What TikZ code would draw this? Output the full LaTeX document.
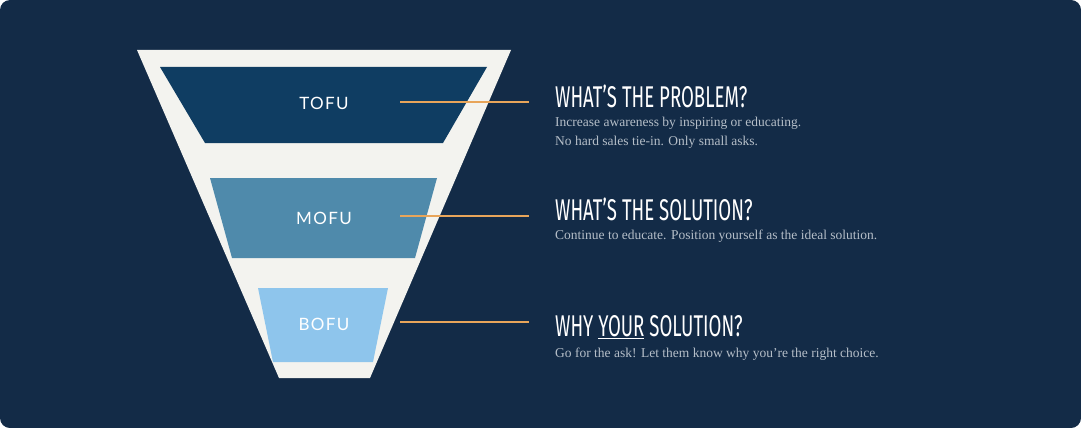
\documentclass[tikz,border=0pt]{standalone}
\usepackage{fontspec}
\setmainfont{Liberation Serif}
\newfontfamily\headf{Fira Sans}
\newfontfamily\labf[LetterSpace=8]{Lato}
\definecolor{bg}{HTML}{132B47}
\definecolor{funnel}{HTML}{F3F3EF}
\definecolor{tofu}{HTML}{0F3D62}
\definecolor{mofu}{HTML}{4F8AAB}
\definecolor{bofu}{HTML}{8EC5EC}
\definecolor{orng}{HTML}{E8A55A}
\definecolor{body}{HTML}{B5BEC8}
\tikzset{
 lab/.style={text=white,font=\labf\fontsize{17}{20}\selectfont},
 head/.style={anchor=west,text=white,inner sep=0,font=\headf\fontsize{30}{32}\selectfont},
 desc/.style={anchor=north west,text=body,inner sep=0,align=left,font=\fontsize{13.5}{18.5}\selectfont},
 conn/.style={orng,line width=1.2pt}
}
\begin{document}
\begin{tikzpicture}[x=1pt,y=-1pt]
\useasboundingbox (0,0) rectangle (1081,428);
\fill[white] (0,0) rectangle (1081,428);
\fill[bg,rounded corners=10pt] (0,0) rectangle (1081,428);
\fill[funnel] (137,50) -- (511,50) -- (370,378) -- (279,378) -- cycle;
\fill[tofu] (160,67) -- (487,67) -- (443,143) -- (205,143) -- cycle;
\fill[mofu] (210,178) -- (437,178) -- (415,258) -- (232,258) -- cycle;
\fill[bofu] (258,288) -- (388,288) -- (373,362) -- (273,362) -- cycle;
\node[lab] (t) at (324,103) {TOFU};
\node[lab] (m) at (324,218) {MOFU};
\node[lab] (b) at (324,324) {BOFU};
\coordinate (t1) at (400,102); \coordinate (t2) at (529,102);
\coordinate (m1) at (400,216); \coordinate (m2) at (529,216);
\coordinate (b1) at (400,322); \coordinate (b2) at (529,322);
\draw[conn] (t1) -- (t2);
\draw[conn] (m1) -- (m2);
\draw[conn] (b1) -- (b2);
\node[head] (h1) at (555,96) {\scalebox{0.62}[1]{WHAT’S THE PROBLEM?}};
\node[desc] (d1) at (555,117) {Increase awareness by inspiring or educating.\\No hard sales tie-in. Only small asks.};
\node[head] (h2) at (555,209) {\scalebox{0.62}[1]{WHAT’S THE SOLUTION?}};
\node[desc] (d2) at (555,230) {Continue to educate. Position yourself as the ideal solution.};
\node[head] (h3) at (555,327) {\scalebox{0.62}[1]{WHY \underline{YOUR} SOLUTION?}};
\node[desc] (d3) at (555,348) {Go for the ask! Let them know why you’re the right choice.};
\end{tikzpicture}
\end{document}
